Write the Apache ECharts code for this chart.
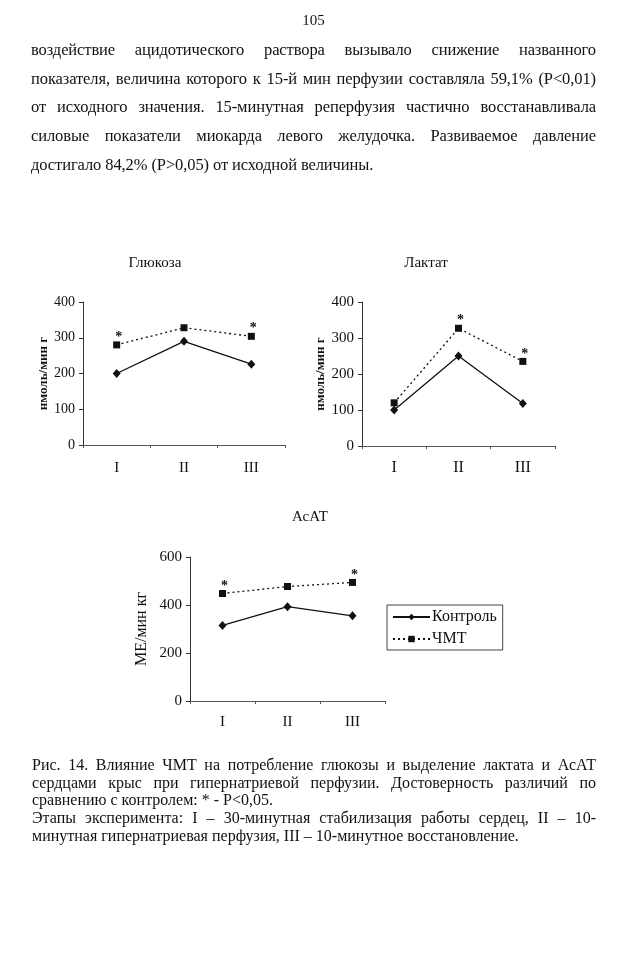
<!DOCTYPE html>
<html><head><meta charset="utf-8">
<script src="https://cdn.jsdelivr.net/npm/echarts@6/dist/echarts.min.js"></script>
<style>
html,body{margin:0;padding:0;background:#fff;}
#page{position:relative;width:627px;height:960px;background:#fff;font-family:"Liberation Serif","Times New Roman",serif;color:#111;}
#chart{position:absolute;left:0;top:0;width:627px;height:960px;}
.ln{position:absolute;white-space:normal;overflow:visible;}
.j{text-align:justify;text-align-last:justify;}
.l{text-align:left;}
</style></head>
<body>
<div id="page">
<div id="chart"></div>
</div>
<script>
// ---- data ----
const stages = ['I', 'II', 'III'];
const glucoseControl = [200, 290, 226];
const glucoseTBI = [280, 328, 304];
const glucoseSig = [1, 0, 1];
const lactateControl = [100, 250, 118];
const lactateTBI = [120, 327, 235];
const lactateSig = [0, 1, 1];
const acatControl = [315, 393, 355];
const acatTBI = [448, 477, 494];
const acatSig = [1, 0, 1];
const seriesNames = ['Контроль', 'ЧМТ'];
const chartTitles = ['Глюкоза', 'Лактат', 'АсАТ'];
const yNames = ['нмоль/мин г', 'нмоль/мин г', 'МЕ/мин кг'];

const pageNumber = '105';
const paraLines = [
  ['воздействие ацидотического раствора вызывало снижение названного', 'j'],
  ['показателя, величина которого к 15-й мин перфузии составляла 59,1% (Р<0,01)', 'j'],
  ['от исходного значения. 15-минутная реперфузия частично восстанавливала', 'j'],
  ['силовые показатели миокарда левого желудочка. Развиваемое давление', 'j'],
  ['достигало 84,2% (Р>0,05) от исходной величины.', 'l']
];
const captionLines = [
  ['Рис. 14. Влияние ЧМТ на потребление глюкозы и выделение лактата и АсАТ', 'j'],
  ['сердцами крыс при гипернатриевой перфузии. Достоверность различий по', 'j'],
  ['сравнению с контролем: * - Р<0,05.', 'l'],
  ['Этапы эксперимента: I – 30-минутная стабилизация работы сердец, II – 10-', 'j'],
  ['минутная гипернатриевая перфузия, III – 10-минутное восстановление.', 'l']
];

// ---- page text ----
const page = document.getElementById('page');
function addLine(text, cls, left, width, cy, fs, lh, ls) {
  const d = document.createElement('div');
  d.className = 'ln ' + cls;
  d.textContent = text;
  d.style.left = left + 'px';
  d.style.width = width + 'px';
  d.style.top = (cy - lh / 2) + 'px';
  d.style.fontSize = fs + 'px';
  d.style.lineHeight = lh + 'px';
  if (ls) d.style.letterSpacing = ls + 'px';
  page.appendChild(d);
  return d;
}
addLine(pageNumber, 'l', 0, 627, 20, 15, 18).style.textAlign = 'center';
const paraY = [49.5, 78.5, 107, 136, 165];
paraLines.forEach((p, i) => addLine(p[0], p[1], 31, 565, paraY[i], 16.5, 20, -0.1));
const capY = [765, 783, 800, 818, 836];
captionLines.forEach((p, i) => addLine(p[0], p[1], 32, 564, capY[i], 16, 18));

// ---- chart ----
const FONT = 'Liberation Serif';
const ink = '#111';
const grids = [
  {left: 83, top: 302, width: 202, height: 143},
  {left: 362, top: 302, width: 193, height: 144},
  {left: 190, top: 557, width: 195, height: 144}
];
const yCfg = [
  {max: 400, interval: 100, fs: 14, nameFs: 13, nameW: 'bold', gap: 31},
  {max: 400, interval: 100, fs: 15, nameFs: 13, nameW: 'bold', gap: 35},
  {max: 600, interval: 200, fs: 15, nameFs: 16, nameW: 'normal', gap: 40}
];
const catFs = [15, 16, 15];
const catMargin = [16, 14, 14];

const xAxes = grids.map((g, i) => ({
  type: 'category', gridIndex: i, data: stages, boundaryGap: true,
  axisLine: {show: true, lineStyle: {color: '#555', width: 1}},
  axisTick: {show: true, length: 3, inside: false, lineStyle: {color: '#555'}},
  axisLabel: {color: ink, fontFamily: FONT, fontSize: catFs[i], margin: catMargin[i]}
}));
const yAxes = grids.map((g, i) => ({
  type: 'value', gridIndex: i, min: 0, max: yCfg[i].max, interval: yCfg[i].interval,
  name: yNames[i], nameLocation: 'middle', nameGap: yCfg[i].gap,
  nameTextStyle: {color: ink, fontFamily: FONT, fontSize: yCfg[i].nameFs, fontWeight: yCfg[i].nameW},
  axisLine: {show: true, lineStyle: {color: '#333', width: 1}},
  axisTick: {show: true, length: 4, lineStyle: {color: '#333'}},
  splitLine: {show: false},
  axisLabel: {color: ink, fontFamily: FONT, fontSize: yCfg[i].fs, margin: 8}
}));

function ctrlSeries(data, i) {
  return {
    name: seriesNames[0], type: 'line', xAxisIndex: i, yAxisIndex: i, data: data,
    symbol: 'diamond', symbolSize: [8, 9], showAllSymbol: true,
    lineStyle: {color: ink, width: 1.3, type: 'solid'},
    itemStyle: {color: ink}, animation: false, z: 3
  };
}
function tbiSeries(data, sig, i) {
  return {
    name: seriesNames[1], type: 'line', xAxisIndex: i, yAxisIndex: i,
    data: data.map((v, k) => ({
      value: v,
      label: {show: sig[k] === 1, formatter: '*', position: 'top', distance: 0,
        offset: [2, 3], color: ink, fontFamily: FONT, fontSize: 14, fontWeight: 'bold'}
    })),
    symbol: 'rect', symbolSize: 7, showAllSymbol: true,
    lineStyle: {color: ink, width: 1.3, type: [2, 3]},
    itemStyle: {color: ink}, animation: false, z: 3
  };
}

const series = [
  ctrlSeries(glucoseControl, 0), tbiSeries(glucoseTBI, glucoseSig, 0),
  ctrlSeries(lactateControl, 1), tbiSeries(lactateTBI, lactateSig, 1),
  ctrlSeries(acatControl, 2), tbiSeries(acatTBI, acatSig, 2)
];

const titlePos = [[155, 263], [426, 263], [310, 517]];
const graphic = chartTitles.map((t, i) => ({
  type: 'text', x: titlePos[i][0], y: titlePos[i][1],
  style: {text: t, font: '15px "Liberation Serif"', fill: ink, textAlign: 'center', textVerticalAlign: 'middle'}
}));

const chart = echarts.init(document.getElementById('chart'), null, {renderer: 'canvas'});
chart.setOption({
  backgroundColor: 'transparent',
  animation: false,
  grid: grids,
  xAxis: xAxes,
  yAxis: yAxes,
  series: series,
  graphic: graphic,
  legend: {
    data: seriesNames, orient: 'vertical', left: 387, top: 605,
    padding: [4, 6, 3, 5], itemGap: 6, itemWidth: 37, itemHeight: 8,
    borderColor: '#444', borderWidth: 1, backgroundColor: '#fff',
    textStyle: {color: ink, fontFamily: FONT, fontSize: 16, padding: [0, 0, 0, -3]},
    selectedMode: false
  }
});
</script>
</body></html>
